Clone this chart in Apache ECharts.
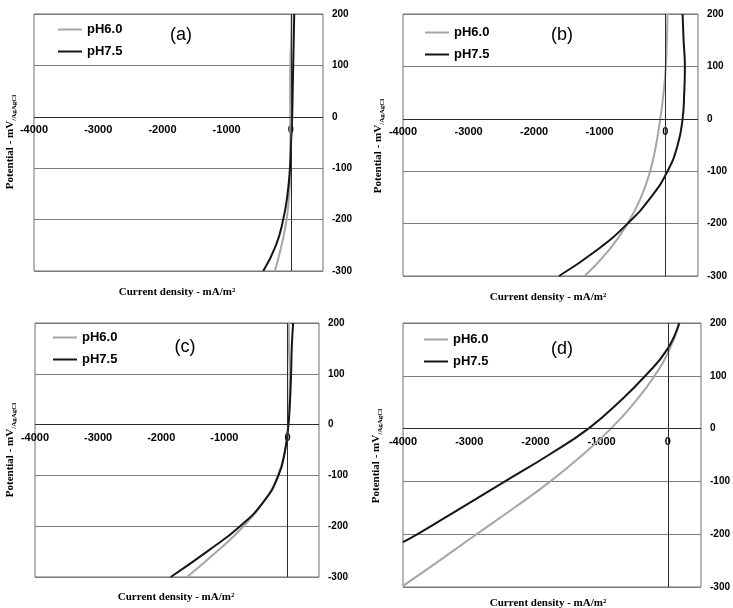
<!DOCTYPE html>
<html>
<head>
<meta charset="utf-8">
<script src="https://cdn.jsdelivr.net/npm/echarts@6/dist/echarts.min.js"></script>
<style>
  html, body { margin: 0; padding: 0; background: #fff; }
  #chart { width: 733px; height: 608px; }
</style>
</head>
<body>
<div id="chart"></div>
<script>
// potential levels (mV vs Ag/AgCl)
let pot = [200, 150, 100, 50, 0, -50, -100, -150, -200, -250, -300]
let potD75 = [200, 150, 100, 50, 0, -50, -100, -150, -200, -215]
let potD60 = [200, 150, 100, 50, 0, -50, -100, -150, -200, -250, -298]

// current density (mA/m2) for each panel
let curA60 = [10, 5, -10, -12, -10, -8, -8, -26, -67, -145, -250]
let curA75 = [52, 44, 36, 28, 20, 3, -15, -52, -120, -233, -430]
let curB60 = [35, 25, 10, -25, -75, -140, -230, -370, -575, -855, -1230]
let curB75 = [265, 280, 300, 290, 265, 190, 35, -220, -575, -1035, -1620]
let curC60 = [20, 25, 35, 30, 10, -35, -150, -365, -695, -1120, -1590]
let curC75 = [90, 68, 58, 42, 16, -37, -142, -368, -750, -1275, -1850]
let curD60 = [180, 25, -200, -500, -860, -1290, -1775, -2320, -2890, -3450, -4000]
let curD75 = [170, -10, -340, -740, -1200, -1800, -2460, -3120, -3780, -4000]

let series_names = ['pH6.0', 'pH7.5']
let series_colors = ['#a6a6a6', '#151515']
let panel_labels = ['(a)', '(b)', '(c)', '(d)']
let x_ticks = {min: -4000, max: 500, interval: 1000}
let y_ticks = {min: -300, max: 200, interval: 100}

function pairs(cur, p) {
    return cur.map((c, i) => [c, p[i]])
}
let panel_data = [
    [pairs(curA60, pot), pairs(curA75, pot)],
    [pairs(curB60, pot), pairs(curB75, pot)],
    [pairs(curC60, pot), pairs(curC75, pot)],
    [pairs(curD60, potD60), pairs(curD75, potD75)]
]

// layout of the 4 plots
let boxes = [
    {left: 34, top: 14, width: 289, height: 257},
    {left: 403, top: 14, width: 295, height: 262},
    {left: 35, top: 323, width: 284, height: 254},
    {left: 403, top: 323, width: 298, height: 264}
]
let legend_pos = [[58, 23], [425, 26], [53, 331], [424, 333]]
let tag_pos = [[181, 35], [562, 35], [185, 347], [562, 349]]
let ytitle_pos = [[10, 142], [378, 146], [10, 450], [376, 456]]
let xtitle_pos = [[177, 292], [548, 297], [176, 597], [548, 603]]

let grids = [], xAxes = [], yAxes = [], seriesList = [], legends = [], graphics = []
for (let i = 0; i < 4; i++) {
    let b = boxes[i]
    // tick labels sit just under the zero-potential line
    let zeroFromBottom = b.height * (0 - y_ticks.min) / (y_ticks.max - y_ticks.min)
    grids.push(Object.assign({show: true, borderColor: '#6e6e6e', borderWidth: 1, backgroundColor: '#fff'}, b))
    xAxes.push({
        type: 'value', gridIndex: i,
        min: x_ticks.min, max: x_ticks.max, interval: x_ticks.interval,
        axisLine: {show: false, onZero: false},
        axisTick: {show: false},
        splitLine: {show: false},
        axisLabel: {
            showMaxLabel: false, margin: -zeroFromBottom + 8, color: '#000',
            fontWeight: 'bold', fontSize: 11, fontFamily: 'Arial',
            formatter: v => String(v)
        }
    })
    yAxes.push({
        type: 'value', gridIndex: i, position: 'right',
        min: y_ticks.min, max: y_ticks.max, interval: y_ticks.interval,
        axisLine: {show: false, onZero: false},
        axisTick: {show: false},
        splitLine: {show: true, lineStyle: {color: '#7a7a7a', width: 1}},
        axisLabel: {margin: 9, color: '#000', fontWeight: 'bold', fontSize: 10, fontFamily: 'Arial'}
    })
    for (let s = 0; s < 2; s++) {
        let item = {
            name: series_names[s], type: 'line', xAxisIndex: i, yAxisIndex: i,
            data: panel_data[i][s], symbol: 'none', smooth: true,
            lineStyle: {color: series_colors[s], width: 2},
            itemStyle: {color: series_colors[s]},
            animation: false
        }
        if (s === 0) {
            // zero current and zero potential lines
            item.markLine = {
                silent: true, symbol: 'none', label: {show: false},
                lineStyle: {color: '#2a2a2a', width: 1, type: 'solid'},
                data: [{xAxis: 0}, {yAxis: 0}]
            }
        }
        seriesList.push(item)
    }
    legends.push({
        left: legend_pos[i][0], top: legend_pos[i][1], orient: 'vertical', padding: 0,
        data: series_names, selectedMode: false, icon: 'rect',
        itemWidth: 24, itemHeight: 2, itemGap: 9,
        textStyle: {fontSize: 13, fontWeight: 'bold', color: '#000', fontFamily: 'Arial'}
    })
    graphics.push({
        type: 'text', x: tag_pos[i][0], y: tag_pos[i][1],
        style: {text: panel_labels[i], fontSize: 18, fontFamily: 'Arial', fill: '#000', align: 'center', verticalAlign: 'middle'}
    })
    graphics.push({
        type: 'text', x: ytitle_pos[i][0], y: ytitle_pos[i][1], rotation: Math.PI / 2,
        style: {
            text: '{m|Potential - mV}{s|/AgAgCl}', align: 'center', verticalAlign: 'middle',
            rich: {
                m: {fontSize: 11, fontWeight: 'bold', fontFamily: 'Liberation Serif', fill: '#000', verticalAlign: 'bottom'},
                s: {fontSize: 7, fontWeight: 'bold', fontFamily: 'Liberation Serif', fill: '#000', verticalAlign: 'bottom', padding: [0, 0, -2, 0]}
            }
        }
    })
    graphics.push({
        type: 'text', x: xtitle_pos[i][0], y: xtitle_pos[i][1],
        style: {text: 'Current density - mA/m²', fontSize: 11, fontWeight: 'bold', fontFamily: 'Liberation Serif', fill: '#000', align: 'center', verticalAlign: 'middle'}
    })
}

let chart = echarts.init(document.getElementById('chart'))
chart.setOption({
    backgroundColor: '#fff',
    animation: false,
    grid: grids,
    xAxis: xAxes,
    yAxis: yAxes,
    legend: legends,
    series: seriesList,
    graphic: graphics
})
</script>
</body>
</html>
